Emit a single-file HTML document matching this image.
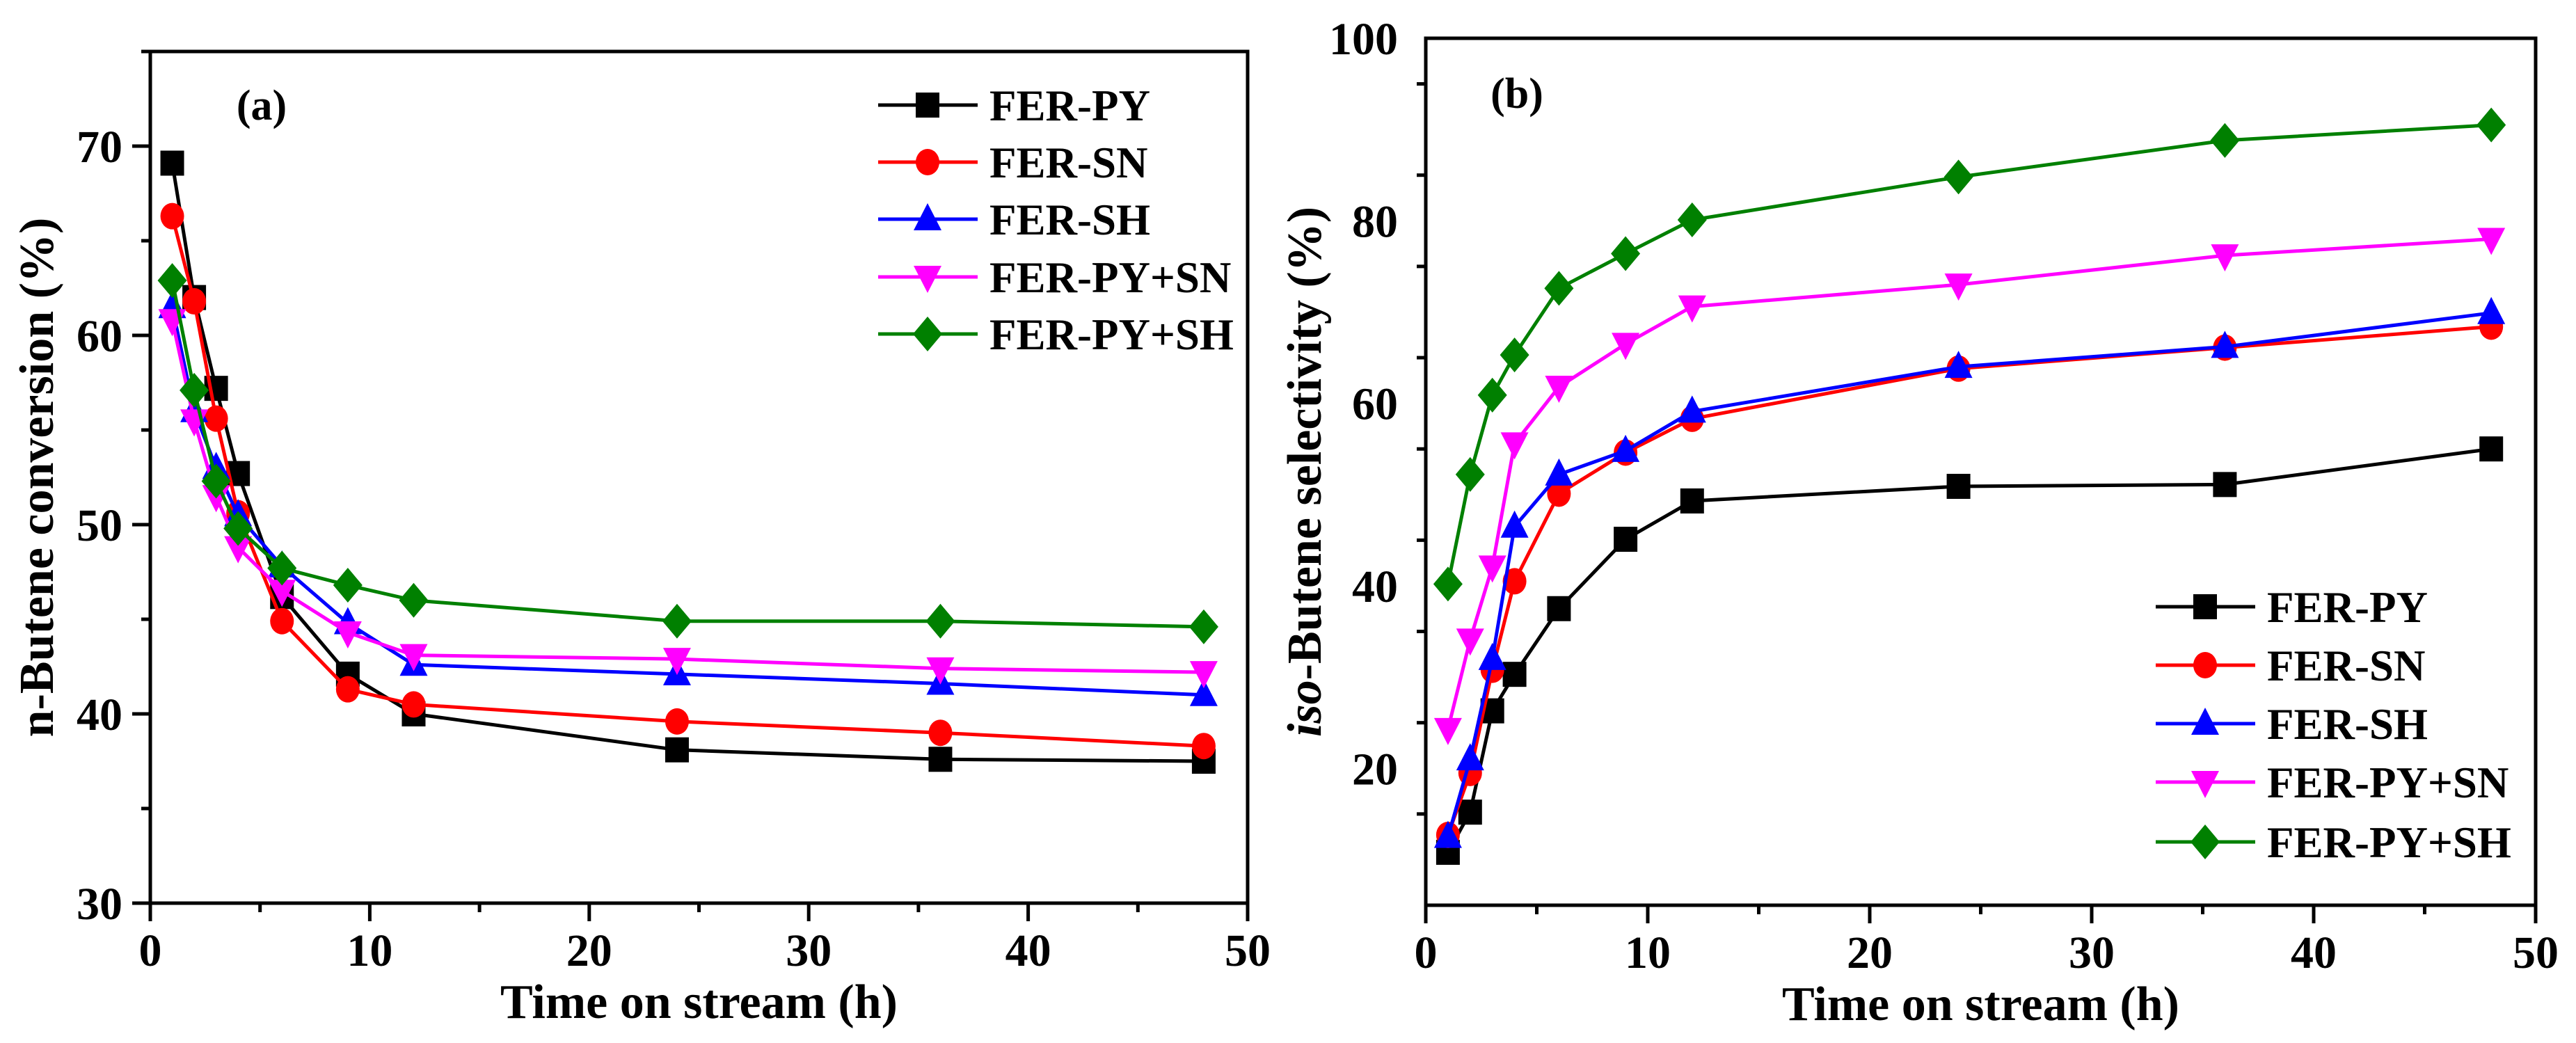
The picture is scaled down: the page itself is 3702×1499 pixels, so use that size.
<!DOCTYPE html>
<html><head><meta charset="utf-8">
<style>
html,body{margin:0;padding:0;background:#fff;}
svg{display:block;}
text{font-family:"Liberation Serif",serif;font-weight:bold;fill:#000;}
</style></head>
<body>
<svg id="fig" width="3702" height="1499" viewBox="0 0 3702 1499" xmlns="http://www.w3.org/2000/svg"></svg>
<script>
const hours = [1,2,3,4,6,9,12,24,36,48];
const seriesNames = ["FER-PY","FER-SN","FER-SH","FER-PY+SN","FER-PY+SH"];
const convPY   = [69.1,62.0,57.2,52.7,46.2,42.1,40.0,38.1,37.6,37.5];
const convSN   = [66.3,61.8,55.6,50.6,44.9,41.3,40.5,39.6,39.0,38.3];
const convSH   = [61.5,56.0,53.0,50.5,47.8,44.8,42.6,42.1,41.6,41.0];
const convPYSN = [60.8,55.5,51.5,48.8,46.5,44.3,43.1,42.9,42.4,42.2];
const convPYSH = [62.9,57.1,52.3,49.8,47.7,46.8,46.0,44.9,44.9,44.6];
const selPY   = [10.8,15.2,26.3,30.3,37.5,45.1,49.3,50.9,51.1,55.0];
const selSN   = [12.7,19.5,30.8,40.5,50.1,54.6,58.3,63.8,66.1,68.4];
const selSH   = [12.5,21.0,32.0,46.5,52.2,54.8,59.1,64.0,66.2,69.9];
const selPYSN = [24.3,34.1,42.1,55.6,61.8,66.5,70.6,73.0,76.2,78.0];
const selPYSH = [40.2,52.2,60.9,65.3,72.6,76.4,80.1,84.8,88.8,90.5];
const xTicks = [0,10,20,30,40,50];
const yTicksA = [30,40,50,60,70];
const yTicksB = [20,40,60,80,100];

const NS="http://www.w3.org/2000/svg";
const svg=document.getElementById('fig');
const colors=["#000000","#ff0000","#0000ff","#ff00ff","#008000"];
const shapes=["square","circle","up","down","diamond"];
function el(tag,attrs,parent){const e=document.createElementNS(NS,tag);for(const k in attrs)e.setAttribute(k,attrs[k]);(parent||svg).appendChild(e);return e;}
function marker(g,shape,cx,cy,c){
  let m;
  if(shape==="square") m=el('rect',{x:cx-17,y:cy-18,width:34,height:36,fill:c},g);
  else if(shape==="circle") m=el('ellipse',{cx:cx,cy:cy,rx:17,ry:19,fill:c},g);
  else if(shape==="up") m=el('polygon',{points:`${cx},${cy-23} ${cx+20},${cy+16} ${cx-20},${cy+16}`,fill:c},g);
  else if(shape==="down") m=el('polygon',{points:`${cx},${cy+23} ${cx+20},${cy-16} ${cx-20},${cy-16}`,fill:c},g);
  else m=el('polygon',{points:`${cx},${cy-25} ${cx+21},${cy} ${cx},${cy+25} ${cx-21},${cy}`,fill:c},g);
  
  
}
function panel(o){
  const g=el('g',{});
  
  
  const X=v=>o.x0+(v-0)/50*(o.x1-o.x0);
  const Y=v=>o.y1-(v-o.ymin)/(o.ymax-o.ymin)*(o.y1-o.y0);
  // ticks
  for(let v=0;v<=50;v+=5){const major=v%10===0;
    const t=el('line',{x1:X(v),x2:X(v),y1:o.y1,y2:o.y1+(major?26:13),stroke:'#000','stroke-width':5},g);
    }
  xTicks.forEach(v=>{const t=el('text',{x:X(v),y:o.y1+90,'font-size':66,'text-anchor':'middle'},g);t.textContent=v;
    });
  for(let v=o.ymin;v<=o.ymax;v+=o.minor){
    if(v===o.ymin && o.ymin%o.major!==0) continue;
    const major=(v%o.major===0);
    const t=el('line',{x1:o.x0-(major?26:13),x2:o.x0,y1:Y(v),y2:Y(v),stroke:'#000','stroke-width':5},g);
    }
  o.yTicks.forEach(v=>{const t=el('text',{x:o.x0-40,y:Y(v)+23,'font-size':66,'text-anchor':'end'},g);t.textContent=v;
    });
  // series
  o.series.forEach((s,i)=>{
    const sg=el('g',{},g);
    
    
    const pl=el('polyline',{points:hours.map((h,j)=>X(h)+','+Y(s[j])).join(' '),fill:'none',stroke:colors[i],'stroke-width':5},sg);
    
    hours.forEach((h,j)=>marker(sg,shapes[i],X(h),Y(s[j]),colors[i]));
  });
  // frame
  const fr=el('rect',{x:o.x0,y:o.y0,width:o.x1-o.x0,height:o.y1-o.y0,fill:'none',stroke:'#000','stroke-width':5},g);
  
  // legend
  seriesNames.forEach((n,i)=>{
    const lg=el('g',{},g);
    
    
    const ly=o.legY[i];
    el('line',{x1:o.legX,x2:o.legX+143,y1:ly,y2:ly,stroke:colors[i],'stroke-width':5},lg);
    marker(lg,shapes[i],o.legX+71,ly,colors[i]);
    const t=el('text',{x:o.legX+160,y:ly+22,'font-size':63},lg);t.textContent=n;
  });
  const pl=el('text',{x:o.tag[0],y:o.tag[1],'font-size':62,'text-anchor':'middle'},g);pl.textContent=o.tagText;
  
  const xt=el('text',{x:(o.x0+o.x1)/2,y:o.y1+165,'font-size':70,'text-anchor':'middle'},g);xt.textContent='Time on stream (h)';
  
  const yt=el('text',{x:0,y:0,'font-size':70,'text-anchor':'middle',transform:`translate(${o.ytX},${(o.y0+o.y1)/2}) rotate(-90)`},g);
  yt.innerHTML=o.ytitle;
  
}
panel({name:'panel-a-conversion',x0:216,x1:1793,y0:74,y1:1298,ymin:30,ymax:75,major:10,minor:5,yTicks:yTicksA,
  series:[convPY,convSN,convSH,convPYSN,convPYSH],legX:1262,legY:[151,233,315,398,480],tag:[376,172],tagText:'(a)',
  ytX:76,ytitle:'n-Butene conversion (%)'});
panel({name:'panel-b-selectivity',x0:2049,x1:3644,y0:55,y1:1301,ymin:5,ymax:100,major:20,minor:10,yTicks:yTicksB,
  series:[selPY,selSN,selSH,selPYSN,selPYSH],legX:3098,legY:[872,956,1040,1124,1210],tag:[2180,155],tagText:'(b)',
  ytX:1898,ytitle:'<tspan font-style="italic">iso</tspan>-Butene selectivity (%)'});
</script>
</body></html>
